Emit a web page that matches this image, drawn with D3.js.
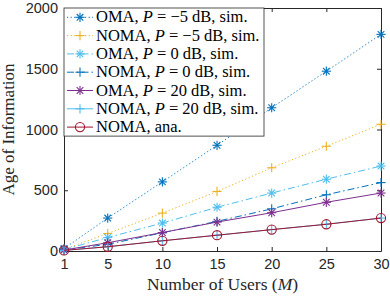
<!DOCTYPE html>
<html>
<head>
<meta charset="utf-8">
<script src="https://cdn.jsdelivr.net/npm/d3@7"></script>
<style>
  body { margin: 0; background: #fff; }
  svg { display: block; }
</style>
</head>
<body>
<svg id="chart" width="390" height="298"></svg>
<script>
// number of users
const users = [1, 5, 10, 15, 20, 25, 30];

// age of information
const omaM5   = [20, 271, 569, 870, 1179, 1480, 1783];
const nomaM5  = [14, 144, 312, 490, 685, 862, 1043];
const oma0    = [12, 111, 230, 360, 477, 591, 699];
const noma0   = [9, 55, 150, 244, 347, 463, 563];
const oma20   = [8, 68, 152, 238, 315, 401, 477];
const noma20  = [5, 35, 84, 130, 176, 220, 271];
const nomaAna = [5, 35, 84, 130, 176, 220, 271];

const xTicks = [1, 5, 10, 15, 20, 25, 30];
const yTicks = [0, 500, 1000, 1500, 2000];

const series = [
  { name: "OMA", p: "\u22125", ys: omaM5,   color: "#0072BD", dash: "1.2,2.4", marker: "star" },
  { name: "NOMA", p: "\u22125", ys: nomaM5, color: "#EDB120", dash: "1.2,2.4", marker: "plus" },
  { name: "OMA", p: "0", ys: oma0,          color: "#4DBEEE", dash: "7,3,1.5,3", marker: "star" },
  { name: "NOMA", p: "0", ys: noma0,        color: "#0072BD", dash: "7,3,1.5,3", marker: "plus" },
  { name: "OMA", p: "20", ys: oma20,        color: "#7E2F8E", dash: null, marker: "star" },
  { name: "NOMA", p: "20", ys: noma20,      color: "#4DBEEE", dash: null, marker: "plus" },
  { name: "NOMA", p: null, ys: nomaAna,     color: "#A2142F", dash: null, marker: "circle" }
];

const margin = { left: 64, right: 9, top: 8, bottom: 47 };
const W = 390, H = 298;
const x = d3.scaleLinear().domain([1, 30]).range([margin.left, W - margin.right]);
const y = d3.scaleLinear().domain([0, 2000]).range([H - margin.bottom, margin.top]);

const svg = d3.select("#chart");
const axisCol = "#262626";
const tickFont = "'Liberation Sans', Arial, sans-serif";
const serif = "'Liberation Serif', 'DejaVu Serif', serif";

// axes (ticks inside, box on)
const gx = svg.append("g").attr("transform", `translate(0,${y(0)})`)
  .call(d3.axisBottom(x).tickValues(xTicks).tickSizeInner(-4).tickSizeOuter(0).tickPadding(8));
const gxTop = svg.append("g").attr("transform", `translate(0,${y(2000)})`)
  .call(d3.axisTop(x).tickValues(xTicks).tickSizeInner(-4).tickSizeOuter(0).tickFormat(""));
const gy = svg.append("g").attr("transform", `translate(${x(1)},0)`)
  .call(d3.axisLeft(y).tickValues(yTicks).tickFormat(d3.format("d"))
    .tickSizeInner(-4).tickSizeOuter(0).tickPadding(6));
const gyR = svg.append("g").attr("transform", `translate(${x(30)},0)`)
  .call(d3.axisRight(y).tickValues(yTicks).tickSizeInner(-4).tickSizeOuter(0).tickFormat(""));

[gx, gxTop, gy, gyR].forEach(g => {
  g.select(".domain").attr("stroke", axisCol);
  g.selectAll(".tick line").attr("stroke", axisCol);
  g.selectAll("text").attr("fill", axisCol).style("font-family", tickFont).style("font-size", "14.5px");
});

// lines and markers
const line = d3.line().x((d, i) => x(users[i])).y(d => y(d));

function drawMarker(g, kind, color, cx, cy) {
  const r = 4.6;
  if (kind === "circle") {
    g.append("circle").attr("cx", cx).attr("cy", cy).attr("r", r)
      .attr("fill", "none").attr("stroke", color).attr("stroke-width", 1.1);
    return;
  }
  let segs = [[-r, 0, r, 0], [0, -r, 0, r]];
  if (kind === "star") {
    const d = r * 0.72;
    segs = segs.concat([[-d, -d, d, d], [-d, d, d, -d]]);
  }
  segs.forEach(s => {
    g.append("line")
      .attr("x1", cx + s[0]).attr("y1", cy + s[1])
      .attr("x2", cx + s[2]).attr("y2", cy + s[3])
      .attr("stroke", color).attr("stroke-width", 1.1);
  });
}

const plot = svg.append("g");
series.forEach(s => {
  plot.append("path").datum(s.ys)
    .attr("d", line)
    .attr("fill", "none")
    .attr("stroke", s.color)
    .attr("stroke-width", 1)
    .attr("stroke-dasharray", s.dash);
  const mg = plot.append("g");
  s.ys.forEach((v, i) => drawMarker(mg, s.marker, s.color, x(users[i]), y(v)));
});

// axis labels
svg.append("text")
  .attr("x", (x(1) + x(30)) / 2).attr("y", H - 8)
  .attr("text-anchor", "middle")
  .style("font-family", serif).style("font-size", "17.5px").attr("fill", axisCol)
  .html("Number of Users (<tspan font-style='italic'>M</tspan>)");

svg.append("text")
  .attr("transform", `translate(14,${(y(0) + y(2000)) / 2}) rotate(-90)`)
  .attr("text-anchor", "middle")
  .style("font-family", serif).style("font-size", "17px").attr("fill", axisCol)
  .text("Age of Information");

// legend
const lg = svg.append("g").attr("transform", `translate(64,${margin.top})`);
const rowH = 18.3;
lg.append("rect").attr("width", 200).attr("height", rowH * series.length)
  .attr("fill", "#fff").attr("stroke", axisCol).attr("stroke-width", 0.8);

series.forEach((s, i) => {
  const cy = 9.3 + i * rowH;
  lg.append("line").attr("x1", 3).attr("x2", 29).attr("y1", cy).attr("y2", cy)
    .attr("stroke", s.color).attr("stroke-width", 1).attr("stroke-dasharray", s.dash);
  drawMarker(lg, s.marker, s.color, 16, cy);
  const t = lg.append("text").attr("x", 32).attr("y", cy + 5)
    .style("font-family", serif).style("font-size", "16.5px").attr("fill", "#000");
  if (s.p === null) {
    t.text(s.name + ", ana.");
  } else {
    t.append("tspan").text(s.name + ", ");
    t.append("tspan").attr("font-style", "italic").text("P");
    t.append("tspan").text(" = " + s.p + " dB, sim.");
  }
});
</script>
</body>
</html>
